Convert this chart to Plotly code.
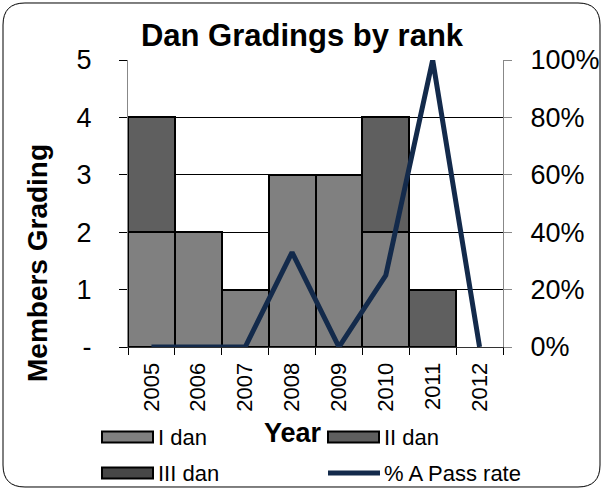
import plotly.graph_objects as go

# Dan grading data by year
years = ["2005", "2006", "2007", "2008", "2009", "2010", "2011", "2012"]
i_dan = [2, 2, 1, 3, 3, 2, 0, 0]
ii_dan = [2, 0, 0, 0, 0, 2, 1, 0]
iii_dan = [0, 0, 0, 0, 0, 0, 0, 0]
pass_rate = [0, 0, 0, 0.33, 0, 0.25, 1.0, 0]

left_ticks = [0, 1, 2, 3, 4, 5]
left_labels = ["-", "1", "2", "3", "4", "5"]
right_ticks = [0, 0.2, 0.4, 0.6, 0.8, 1.0]

series_names = ["I dan", "II dan", "III dan", "% A Pass rate"]
bar_colors = ["#808080", "#5f5f5f", "#474747"]
line_color = "#132a4b"

W, H = 604, 490
L, R, T, B = 128, 101, 60, 143

font = "Liberation Sans, Arial, sans-serif"
edge = dict(color="black", width=2)

fig = go.Figure()
for vals, name, col in zip([i_dan, ii_dan, iii_dan], series_names[:3], bar_colors):
    # empty segments are left undrawn so no outline appears for them
    shown = [v if v else None for v in vals]
    fig.add_trace(go.Bar(x=years, y=shown, name=name, marker=dict(color=col, line=edge)))
fig.add_trace(go.Scatter(x=years, y=pass_rate, name=series_names[3], yaxis="y2",
                         mode="lines", line=dict(color=line_color, width=5)))

# helpers converting pixel positions to paper coordinates
pw, ph = W - L - R, H - T - B
def px(x):
    return (x - L) / pw
def py(y):
    return (H - B - y) / ph

# rounded outer frame
x0, x1, y0, y1, rr = 3, 600, 3, 487, 22
pts = [
    ("M", (x0 + rr, y0)), ("L", (x1 - rr, y0)), ("Q", (x1, y0), (x1, y0 + rr)),
    ("L", (x1, y1 - rr)), ("Q", (x1, y1), (x1 - rr, y1)), ("L", (x0 + rr, y1)),
    ("Q", (x0, y1), (x0, y1 - rr)), ("L", (x0, y0 + rr)), ("Q", (x0, y0), (x0 + rr, y0)),
]
path = ""
for cmd, *ps in pts:
    path += cmd + " " + " ".join(f"{px(a):.5f},{py(b):.5f}" for a, b in ps) + " "
path += "Z"

shapes = [dict(type="path", path=path, xref="paper", yref="paper",
               line=dict(color="black", width=1), layer="below")]
annotations = []

# legend: two columns, wide swatches
legend_slots = [(102, 437), (328, 437), (102, 473), (328, 473)]
for i, ((lx, ly), name) in enumerate(zip(legend_slots, series_names)):
    if i < 3:
        shapes.append(dict(type="rect", xref="paper", yref="paper",
                           x0=px(lx), x1=px(lx + 51), y0=py(ly - 5.5), y1=py(ly + 5.5),
                           fillcolor=bar_colors[i], line=dict(color="black", width=2)))
    else:
        shapes.append(dict(type="line", xref="paper", yref="paper",
                           x0=px(lx), x1=px(lx + 52), y0=py(ly), y1=py(ly),
                           line=dict(color=line_color, width=5)))
    annotations.append(dict(text=name, xref="paper", yref="paper", x=px(lx + 54), y=py(ly),
                            xanchor="left", yanchor="middle", showarrow=False,
                            font=dict(size=22)))

# axis titles
annotations.append(dict(text="<b>Year</b>", xref="paper", yref="paper", x=px(293), y=py(433),
                        xanchor="center", yanchor="middle", showarrow=False,
                        font=dict(size=27)))
annotations.append(dict(text="<b>Members Grading</b>", xref="paper", yref="paper",
                        x=px(37), y=py(263), xanchor="center", yanchor="middle",
                        textangle=-90, showarrow=False, font=dict(size=28)))

fig.update_layout(
    width=W, height=H,
    margin=dict(l=L, r=R, t=T, b=B, autoexpand=False),
    paper_bgcolor="white", plot_bgcolor="white",
    barmode="stack", bargap=0, showlegend=False,
    font=dict(family=font, color="black", size=22),
    title=dict(text="<b>Dan Gradings by rank</b>", x=302 / W, xanchor="center",
               y=1 - 35 / H, yanchor="middle", font=dict(size=31)),
    xaxis=dict(tickangle=-90, tickfont=dict(size=22), ticks="outside", tickson="boundaries",
               ticklen=7, tickcolor="black", showline=True, linecolor="#333333", linewidth=1,
               automargin=False, ticklabelstandoff=6),
    yaxis=dict(range=[0, 5], tickvals=left_ticks, ticktext=left_labels, showgrid=True,
               gridcolor="black", gridwidth=1, ticks="outside", ticklen=8, tickcolor="black",
               showline=True, linecolor="#888888", linewidth=1, zeroline=False,
               tickfont=dict(size=27), automargin=False, ticklabelstandoff=22),
    yaxis2=dict(range=[0, 1], overlaying="y", side="right", tickformat=".0%",
                tickvals=right_ticks, showgrid=False, ticks="outside",
                ticklen=8, tickcolor="#888888", showline=True, linecolor="#888888",
                linewidth=1, zeroline=False, tickfont=dict(size=27), automargin=False,
                ticklabelstandoff=13),
    shapes=shapes,
    annotations=annotations,
)

fig.write_html("out.html")
